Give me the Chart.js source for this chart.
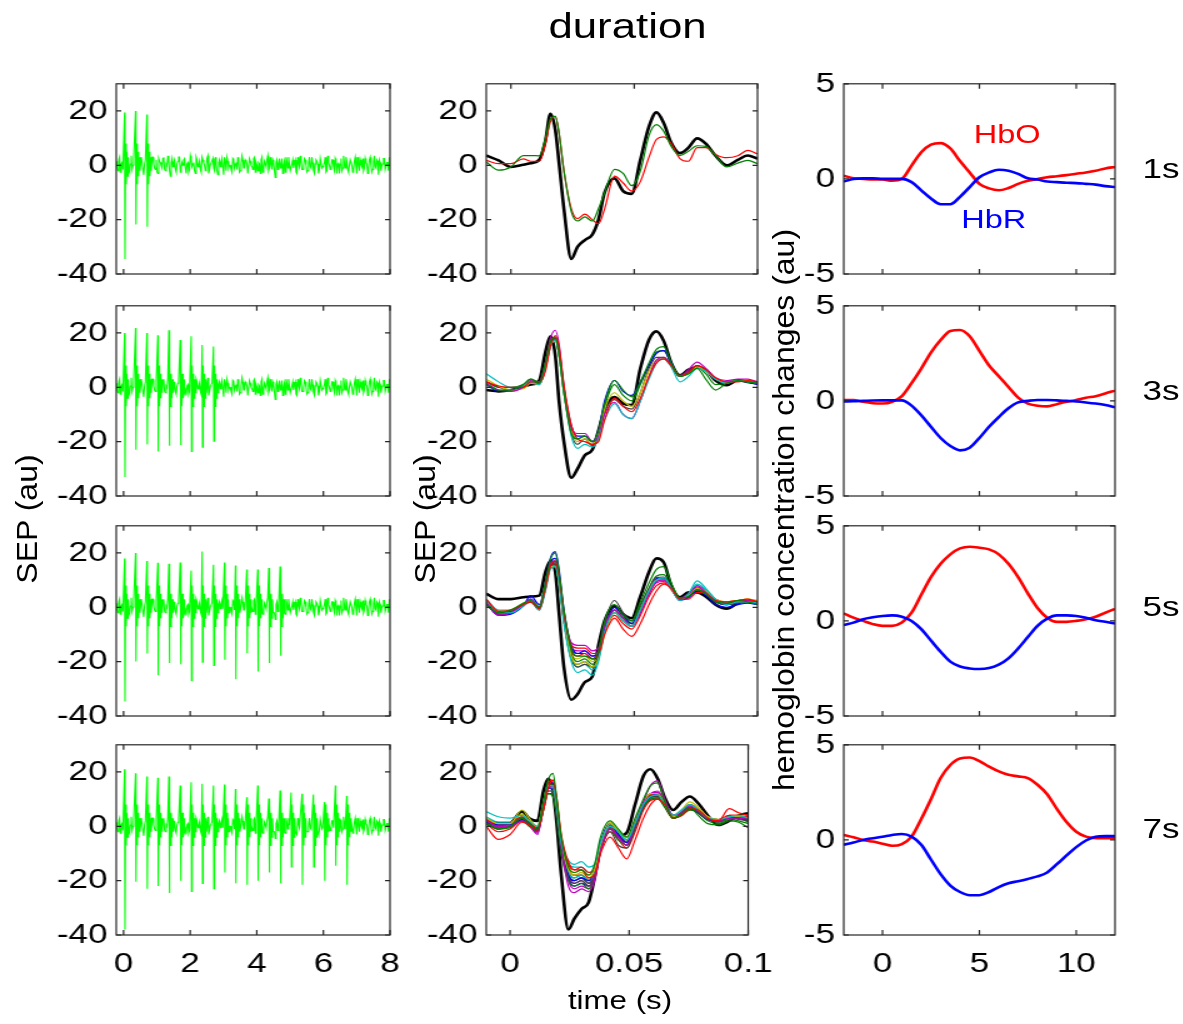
<!DOCTYPE html>
<html lang="en">
<head>
<meta charset="utf-8">
<title>duration</title>
<script src="https://cdn.jsdelivr.net/npm/chart.js@4.4.1/dist/chart.umd.min.js"></script>
<style>
    html, body { margin: 0; padding: 0; background: #fff; }
    body { width: 1183px; height: 1024px; overflow: hidden; position: relative; }
    /* 原图整体横向拉伸约 1.25 倍 */
    #figure {
        position: absolute; left: 0; top: 0;
        width: 947px; height: 1024px;
        transform: scaleX(1.25); transform-origin: 0 0;
        font-family: 'Liberation Sans', Arial, sans-serif; color: #000;
    }
    #figure canvas { position: absolute; }
    .txt { position: absolute; white-space: nowrap; line-height: 1; }
    .title { font-size: 35px; left: 502px; top: 8px; transform: translateX(-50%); }
    .dur { font-size: 28px; left: 914px; }
    .hb { font-size: 26px; }
    .xlabel { font-size: 25px; left: 496px; top: 988px; transform: translateX(-50%); }
    .ylabel { font-size: 32px; transform: translate(-50%, -50%) rotate(-90deg) scaleY(0.75); }
</style>
</head>
<body>
<div id="figure">
    <div class="txt title">duration</div>
    <div class="txt ylabel" style="left:21px; top:519px;">SEP (au)</div>
    <div class="txt ylabel" style="left:340px; top:519px;">SEP (au)</div>
    <div class="txt ylabel" style="left:627px; top:510px;">hemoglobin concentration changes (au)</div>
    <div class="txt xlabel">time (s)</div>
    <div class="txt hb" style="left:779px; top:121px; color:#ff0000;">HbO</div>
    <div class="txt hb" style="left:769px; top:206px; color:#0000ff;">HbR</div>
    <div class="txt dur" style="top:155px;">1s</div>
    <div class="txt dur" style="top:377px;">3s</div>
    <div class="txt dur" style="top:593px;">5s</div>
    <div class="txt dur" style="top:815px;">7s</div>
</div>

<script>
// 刺激脉冲时间 (s)
const SPIKE_T = [0.03, 0.36, 0.70, 1.03, 1.36, 1.70, 2.03, 2.36, 2.70, 3.03, 3.36,
    3.70, 4.03, 4.36, 4.70, 5.03, 5.36, 5.70, 6.03, 6.36, 6.70];

// 每个脉冲的正/负峰值
const SPIKE_HIGH_1S = [19.4, 20, 18.7];
const SPIKE_LOW_1S = [-34.5, -21.8, -22.6];
const SPIKE_HIGH_3S = [20, 21.8, 20, 19.2, 21, 17.4, 18.8, 15.6, 15];
const SPIKE_LOW_3S = [-33, -23, -21, -23.6, -21.5, -21.2, -23.6, -22, -19.8];
const SPIKE_HIGH_5S = [18, 20, 17, 16.4, 16, 16.5, 13.5, 20.5, 15.7, 16.5, 15.4, 13.9, 13.9, 14.5, 15];
const SPIKE_LOW_5S = [-34.7, -19.9, -17, -25, -20.5, -21, -27, -20.2, -21.4, -19.3, -26.5, -16.9, -23.6, -20.5, -17.8];
const SPIKE_HIGH_7S = [21, 19.5, 18.3, 17.9, 18.3, 15, 16.2, 15.7, 15, 15.4, 13.7, 10.7, 15, 10.2, 13.2,
    12.4, 12, 11.7, 8.9, 15, 11.2];
const SPIKE_LOW_7S = [-38, -20.4, -23, -22, -24.5, -20, -24, -21, -23, -17, -21, -21.5, -20, -17, -21,
    -15, -21.5, -15, -20, -14.5, -21.5];

// 脉冲后的振铃 (相对时间, 幅值)
const RING_DT = [0.03, 0.05, 0.07, 0.09, 0.11, 0.13];
const RING_Y = [8, -7, 5, -4, 3, -2];

// 基线噪声, 从 -0.22 s 起每 0.05 s 一个点; 第二组错开半步
const EEG_X0 = -0.22;
const EEG_STEP = 0.05;
const NOISE = [
    1.5, -2, 3, 0.5, -1.5, 2.5, -0.5, 1, -2.5, 3.5,
    0, -1, 2, -2, 1.5, 3, -1.5, 0.5, 2.5, -2.5,
    1, -0.5, 3, -1, 2, -3, 1.5, 0, 2.5, -1.5,
    0.5, 3.5, -2, 1, -0.5, 2, -2.5, 1.5, 3, -1,
    0, 2.5, -3, 1, -1.5, 2, 0.5, -2, 3, -0.5,
    1.5, -2.5, 2, 0, -1, 3.5, -1.5, 1, 2.5, -2,
    0.5, -3.5, 2, 1, -0.5, 3, -2, 1.5, 0, -1.5,
    2.5, -1, 1, 3, -2.5, 0.5, 2, -1, 1.5, -3,
    2.5, 0, -1.5, 3, 1, -2, 0.5, 2, -2.5, 1.5,
    -0.5, 3.5, -1, 0.5, 2, -2, 1, -1.5, 2.5, 0,
    -3, 1.5, 3, -1, 0.5, -2, 2, 1, -2.5, 3,
    -0.5, 1.5, -1.5, 2.5, 0, -2, 3, -1, 1, -3,
    2, 0.5, -1.5, 2.5, -0.5, 1, -2.5, 3.5, 0, -1,
    2, -2, 1.5, 0.5, -3, 2.5, -1, 1, 3, -1.5,
    0, 2, -2.5, 1.5, -0.5, 3, -2, 0.5, 2.5, -1,
    1, -3, 2, 0, -1.5, 3.5, -1, 1.5, 2, -2,
    0.5, 2.5, -1.5, 1, 3
];
const NOISE_B = [
    -1, 2, -2.5, 1, 3, -0.5, -3, 2, 0.5, -1.5,
    2.5, -2, 0, 3.5, -1, 1, -3.5, 2, -0.5, 1.5,
    -2, 3, 0.5, -1.5, -2.5, 2.5, 1, -1, 3, -2,
    0, 1.5, -4, 2.5, 1, -1.5, 0.5, 3, -2.5, 1,
    2, -1, 0.5, -2.5, 3.5, -0.5, 1, -3, 2, 0,
    -1.5, 3, 1, -2, 2.5, -3, 0.5, 1.5, -1, 3,
    -2, 1, -0.5, 2.5, -3.5, 1.5, 3, -1, 0, -2.5,
    2, 0.5, -1.5, 1, -2, 3.5, -1, 2, 0.5, -3,
    1.5, -0.5, 2.5, -2.5, 0, 1, -3, 3, -1, 0.5,
    2, -2, 3, -1.5, 1, -4.5, 2, 0.5, -1, 2.5,
    0, -2.5, 1.5, 3, -2, 0.5, -1, 2, -3, 1,
    3.5, -1.5, 0, 2, -2.5, 1, -0.5, 3, -2, 0.5,
    1.5, -3, 2.5, -1, 0, 3, -2, 1, -1.5, 2,
    -0.5, 2.5, -3, 1, 0.5, -2, 3.5, -1, 1.5, -2.5,
    2, 0, -1.5, 3, -3, 1, 2, -0.5, -2, 2.5,
    0.5, -1, 3, -2.5, 1.5, -0.5, 2, -3.5, 1, 0,
    2.5, -1.5, 1, -2, 2
];

// SEP 平均波形的时间轴 (s)
const SEP_T = [-0.01, -0.005, 0, 0.005, 0.008, 0.0115, 0.014, 0.016, 0.018, 0.0195, 0.0215, 0.0245,
    0.027, 0.03, 0.033, 0.0355, 0.038, 0.042, 0.0455, 0.049, 0.0525, 0.056, 0.059, 0.062, 0.065,
    0.0685, 0.072, 0.0755, 0.079, 0.083, 0.0875, 0.092, 0.096, 0.1];

// 第一个脉冲 (黑色粗线)
const SEP_1S_FIRST = [3.6, 1.8, -0.6, 0.2, 0.8, 2, 9, 19, 13, 1, -16, -34.5, -30, -27.5, -25.5, -20, -10,
    -4.8, -9.5, -10.5, 2, 14.3, 19.5, 15.5, 8.3, 4.5, 6.5, 9.9, 8, 3.5, 0, 2, 3.6, 2.4];
const SEP_3S_FIRST = [-1, -1.5, -1, 0.2, 1, 2.5, 13, 18.8, 11.6, -5, -20, -33.3, -30, -25, -23, -16, -8,
    -3.6, -6, -6.5, 7, 17.5, 20.6, 17, 9, 4.4, 6.5, 7.4, 6.5, 2.5, 0.8, 2.6, 2, 1.4];
const SEP_5S_FIRST = [5, 3, 3, 3.7, 4, 4.3, 13, 17, 13, -2, -22, -34, -32, -27.5, -25.5, -14, -5,
    0.5, -2.5, -4, 4, 13, 18, 16.5, 8, 3.7, 5.5, 5.5, 4, 1, -0.5, 1.5, 2.5, 2];
const SEP_7S_FIRST = [2.4, 1.2, 1.2, 5.5, 3, 2, 13, 17.5, 13, 2, -18, -38, -34, -30.4, -28, -19, -8,
    0, -3.6, -2.4, 8, 18.5, 21, 17.5, 10.5, 6, 9, 11, 8.5, 4, 0.5, 2, 4, 4.8];

// 其余脉冲 (彩色细线)
const SEP_1S_TRIALS = [
    [1.2, -1.8, -0.6, 3.6, 3.6, 3.5, 10, 17, 18, 12, -2, -17, -20.5, -19, -20.5, -16, -10, -1.5, -3, -7.5, -2, 11, 15, 12.5, 7, 3.6, 5.2, 7.2, 7, 3.6, -0.6, 0.8, 1.8, 0.6],
    [1.8, 0.6, 0.6, 2.4, 1.5, 1.5, 8, 16, 18, 12, -2, -16, -19.6, -18, -20, -21.5, -16, -4, -6.5, -9.5, -6, 3, 9.5, 10.5, 8, 2.5, 1.5, 6.5, 6.5, 4, 2.8, 3.5, 5.5, 4.2]
];
const SEP_3S_TRIALS = [
    [1, -1, -1, 1, 3, 1.5, 9, 17, 18.5, 12, -2, -17, -19, -18, -20, -16, -6, 2.5, -1, -3.5, 2, 9, 14, 15, 9, 4, 5, 7, 3, -1, 1.5, 2.5, 2, 1.5],
    [2, 0.5, 0, 0, 2, 2, 6, 15, 19, 15, 1, -14, -19, -20, -21, -20, -12, -4, -7, -9, -4, 4, 9, 10.5, 8, 4, 5.5, 8, 6.5, 3.5, 2, 2, 2.5, 2],
    [5, 2, 0, 0.5, 2, 1, 7, 15, 17.5, 12, -2, -18, -22.5, -21, -22, -19, -12, -6, -10, -11.5, -5, 3, 9, 10.5, 7.5, 2, 4, 7, 6, 3, 1.5, 2.5, 2, 1.5],
    [1.5, -1, -1.5, 0, 2.5, 2, 9, 18, 21, 16, 0, -15, -17, -17, -20, -18, -10, -5.5, -10, -11.5, -5, 4, 10, 11, 8, 4, 6.5, 9.3, 7, 3.5, 2.5, 3, 3, 2],
    [3, 0.5, -1, -0.5, 1.5, 1, 7, 15.5, 17, 12, -2, -16, -20, -19, -21, -17, -8, -2, -5, -7, -2, 6, 10, 10.5, 8, 4, 5, 7.5, 6, 3, 2, 2.5, 2.5, 2],
    [2, 0, -1, 0, 2, 1.5, 8, 16, 18, 13, -1, -17, -21, -19, -21.5, -18, -9, -4.5, -7, -8, -2, 7, 11, 11, 8, 4.5, 6, 8, 6.5, 3, 2, 2.5, 2, 1.5],
    [1, -1.5, -1, 0, 1.5, 1, 7, 15, 18, 14, 0, -14, -18, -18, -20, -16, -5, 2.5, -1.5, -3, 2, 8, 12.5, 13.5, 9, 4, 5.5, 8, 6, 3, 2, 2.5, 2, 1],
    [2, 0, 0, 1, 3, 2, 9, 16.5, 17.5, 12, -2, -16, -19, -18, -20, -17, -7, 1, -3, -5, 1, 8, 13, 13.5, 8.5, 4, 5, 7.5, 5, 1, 1.5, 2.5, 2.5, 2]
];
const SEP_5S_TRIALS = [
    [1, -2, -1, 1.5, 2.5, 0, 9, 17.5, 20, 13, -1, -15, -18, -18, -19, -16, -5, 1, -3, -5, 2, 9, 14, 15, 9, 3.5, 4, 6.5, 5, 2, 1.5, 2.5, 2, 1],
    [3, -1.5, -1, 1, 2, -0.5, 7, 15, 17, 12, -2, -14, -15, -15, -17, -17, -10, -4, -8, -10.7, -6, 1, 6, 8.5, 7, 3, 3, 5.5, 5, 2.5, 2, 2.5, 3, 2],
    [2.5, -2, -2, 0.5, 2.5, -1, 6, 14, 15, 9, -6, -20, -24, -23, -25, -20, -9, -2, -5, -7, -1, 6, 10, 11, 7, 2.5, 5, 9.7, 7, 3, 1, 2, 2, 1.5],
    [1.5, -3, -2, 1, 3, 0, 8, 16, 17, 11, -3, -13, -14, -14, -16, -15, -7, -1, -4, -7, -2, 5, 9.5, 10, 7, 3, 5, 7.5, 5.5, 2.5, 1.5, 2, 2.5, 1.5],
    [2.5, -1.5, -1, 1.5, 2.5, 0.5, 8, 15, 15, 9, -5, -18, -21, -20, -22, -19, -10, -2, -5, -7, -1, 6, 10, 10, 6.5, 3, 4.5, 7, 6, 3, 2, 2.5, 3, 2.5],
    [2, -2, -1.5, 1, 2, -1, 7, 15, 16, 10, -5, -19, -22, -21, -22, -18, -6, 2.5, -2, -5, 1, 7, 11, 11, 7, 3, 4, 6.5, 5, 2, 1, 1.5, 2, 1.5],
    [1.5, -3, -2.5, 0.5, 4.3, 1, 9, 18, 20.5, 14, -1, -14, -17, -16, -18, -17, -8, 0, -3, -6, -1, 6, 10.5, 11, 7, 2.5, 3.5, 6, 4.5, 1, 0, 1, 1.5, 1],
    [2, -2, -1.5, 1, 2.5, 0, 8, 16, 17, 11, -3, -17, -20, -19, -21, -18, -9, -1, -4, -6, 0, 7, 11.5, 12, 7.5, 3, 4.5, 7, 5.5, 2.5, 1.5, 2, 2, 1.5],
    [1, -2.5, -2, 0.5, 2, -0.5, 7, 15, 16, 11, -3, -16, -18, -17, -19, -17, -9, -3, -6, -8, -3, 4, 8, 9, 7, 3, 4, 6.5, 5.5, 3, 2, 2.5, 2.5, 2],
    [3, -1, -1, 1.5, 3, 0.5, 8, 15, 15.5, 10, -4, -18, -22, -21, -23, -19, -9, -2, -5, -7, -1, 6, 10, 10.5, 7, 3, 5, 8.5, 6.5, 3, 1.5, 2, 2, 1.5],
    [2, -2, -1.5, 1, 2.5, 0, 8, 16, 17, 11, -3, -15, -16, -16, -18, -16, -8, -2, -5, -7, -2, 5, 9, 9.5, 6.5, 3, 5, 8, 6, 2.5, 1.5, 2.5, 2.5, 2],
    [2, -1.5, -1, 1, 2, 0, 7, 15, 16, 10, -4, -17, -19, -18, -20, -18, -9, -1, -4, -6, 0, 6.5, 10.5, 11, 7, 3, 4.5, 7, 5.5, 2.5, 2, 2.5, 3, 2.5],
    [2.5, -2, -1, 1, 2.5, -0.5, 7, 15.5, 16, 10, -5, -19, -21, -20, -22, -19, -8, 0, -3, -6, 0, 6, 10, 10.5, 7, 3.5, 5, 7, 5.5, 2.5, 1, 2, 2, 1.5],
    [1, -2.5, -2, 0.5, 3, 0, 8, 16.5, 18, 12, -2, -15, -17, -17, -19, -17, -8, -1, -4, -6, -1, 5.5, 10, 10.5, 7, 3, 4, 6.5, 5, 2, 1, 1.5, 2, 1]
];
const SEP_7S_TRIALS = [
    [1, -1, 0, 3, 1, -1, 9, 17, 19.5, 11, -4, -15, -17, -16, -18, -14, -4, 2, -1, -4, 3, 10, 15, 16, 9, 3, 4.5, 7, 4, 1, 0.5, 2, 1.5, -0.5],
    [0, -4.8, -3, 1.5, 0.5, -1.5, 6, 14, 17, 11, -3, -13, -16, -16, -19, -18, -10, -4, -8, -12, -5, 3, 8, 10, 8, 3, 4, 6.5, 6, 3, 2, 6.5, 5, 4],
    [5.4, 3.5, 3, 4, 2, 0, 8, 15, 15, 8, -6, -12.5, -14, -13, -15, -14, -6, 0, -2, -5, 1, 8, 11, 11.5, 8, 4, 6, 8, 6, 3, 2.5, 3.5, 4, 3],
    [2, 0, 0, 2, 0.5, -3, 7, 14, 15, 9, -7, -22, -24.4, -23, -24, -20, -9, -1, -4, -7, 1, 9, 15, 16.7, 10, 4, 5, 8, 6, 3, 2, 3, 3, 2.5],
    [3, 1, 1, 6, 3, 0, 9, 15, 15, 8, -6, -16, -18, -17, -19, -16, -7, 1, -2, -5, 2, 9, 12, 12, 8, 3.5, 6, 9, 7, 3.5, 2.5, 3.5, 4, 4],
    [2, 0, 0, 3, 1, -1, 7, 13, 13, 6, -8, -19, -21, -20, -22, -19, -9, -2, -7, -8, -1, 7, 11, 11, 8, 3, 5, 7, 5, 2.5, 2, 3, 3, 3],
    [1.5, 0.5, 0.5, 2.5, 1, -1.5, 7, 14, 14, 7, -7, -18, -20, -19, -20, -16, -6, 1, -3, -6, 1, 8, 11, 12, 8, 3.5, 5, 6.5, 5, 2.5, 2, 3.5, 3, 2.5],
    [2, -1, -0.5, 2, 0, -2, 6, 12, 11, 4, -10, -20, -22, -21, -23, -19, -9, -1, -5, -7, 0, 7, 10, 10.5, 7, 3, 4, 6, 5, 2, 1, 2.5, 2, 1],
    [2.5, 0.5, 1, 3.5, 1.5, -0.5, 8, 16, 17, 10, -4, -14, -16, -15, -17, -16, -7, 0, -3, -6, 1, 8, 11.5, 12, 8.5, 4, 5, 7, 6, 3, 2.5, 4, 4, 3.5],
    [3, 1, 1, 3, 1, -1, 8, 15, 15, 8, -6, -17, -19, -18, -20, -17, -8, 0, -3, -6, 1, 8, 11, 11, 8, 3.5, 5.5, 8, 6, 3, 2, 3, 3, 3],
    [1.5, -0.5, 0, 2.5, 0.5, -2, 7, 14, 15, 8, -6, -18, -21, -20, -22, -18, -8, -1, -4, -7, 0, 8, 12, 12.5, 8.5, 3.5, 5, 7.5, 5.5, 2.5, 2, 3, 3, 2.5],
    [2, 0.5, 0.5, 3.5, 1.5, -0.5, 8, 15, 14, 7, -7, -15, -17, -16, -18, -15, -6, 1.5, -1.5, -4, 2, 9, 11.5, 12, 8, 4, 6, 8, 6.5, 3.5, 2.5, 3.5, 3.5, 3.5],
    [1, -1, 0, 2, 0.5, -1.5, 6, 12, 12, 5, -9, -18, -20, -19, -21, -17, -7, -0.5, -4, -6, 0, 7, 10, 10.5, 7, 3, 4.5, 6.5, 5, 2.5, 1.5, 3, 2.5, 2],
    [2.5, 0.5, 1, 3, 1, -1, 8, 16, 16, 8, -6, -19, -22, -21, -22, -18, -8, 0, -3, -6, 1, 8, 11, 11.5, 8, 3.5, 5, 7, 5.5, 3, 2, 3.5, 3, 2.5],
    [2, 0, 0, 3, 1, -1, 8, 15, 15.5, 8, -6, -17, -19, -18, -20, -17, -8, 0.5, -2.5, -5, 1.5, 8.5, 12, 12, 8, 3.5, 5, 7, 5.5, 3, 2, 3, 3, 1.5],
    [1, -2, -1, 2, 0.5, -1.5, 7, 14, 15, 9, -5, -16, -18, -18, -20, -18, -9, -2, -5, -8, -2, 6, 9.5, 10, 7.5, 3, 4, 6, 5.5, 3, 2, 4, 4, 3.5],
    [3.5, 1.5, 1.5, 3.5, 1.5, -0.5, 7, 13, 13, 6, -8, -14, -15, -15, -17, -15, -6, 1, -2, -5, 1.5, 8, 11, 11, 7.5, 3.5, 5.5, 7.5, 6, 3, 2.5, 3, 3.5, 3],
    [2, 0, 0, 2.5, 0.5, -2.5, 7, 15, 16, 9, -6, -20, -23, -22, -23, -19, -9, -1, -4, -7, 0, 8, 12, 13, 9, 4, 5.5, 8, 6, 3, 2, 3, 3, 2],
    [2.5, 1, 1, 4.5, 2, 0, 8, 14, 14, 7, -7, -16, -18, -17, -19, -16, -7, 0.5, -2.5, -5, 1, 8, 11, 11, 7.5, 3.5, 5.5, 8, 6.5, 3.5, 2.5, 3.5, 3.5, 3.5],
    [1.5, -0.5, 0, 2.5, 1, -1, 7, 14, 14, 7, -7, -18, -20, -19, -21, -18, -8, -0.5, -4, -6, 0, 7.5, 10.5, 11, 7.5, 3, 4.5, 7, 5, 2.5, 1.5, 3, 3, 2.5]
];

// 血红蛋白浓度变化的时间轴 (s)
const HB_T = [-2, -1.5, -1, -0.5, 0, 0.5, 1, 1.5, 2, 2.5, 3, 3.5, 4, 4.5, 5, 5.5, 6, 6.5, 7, 7.5,
    8, 8.5, 9, 9.5, 10, 10.5, 11, 11.5, 12];
const HBO_1S = [0.17, 0.03, 0, -0.03, -0.03, -0.1, 0, 0.7, 1.4, 1.8, 1.88, 1.6, 0.94, 0.34, -0.26,
    -0.5, -0.6, -0.48, -0.26, -0.1, 0, 0.09, 0.14, 0.2, 0.27, 0.34, 0.43, 0.55, 0.63];
const HBR_1S = [-0.14, 0, 0.03, 0.03, 0, 0, 0, -0.17, -0.6, -1.03, -1.33, -1.33, -0.94, -0.43, 0.09,
    0.34, 0.48, 0.43, 0.26, 0.03, -0.03, -0.14, -0.17, -0.2, -0.22, -0.26, -0.3, -0.38, -0.43];
const HBO_3S = [0.05, 0.05, -0.05, -0.12, -0.14, -0.05, 0.25, 0.93, 1.7, 2.54, 3.2, 3.68, 3.73, 3.4, 2.63,
    1.86, 1.3, 0.73, 0.17, -0.14, -0.25, -0.29, -0.17, -0.05, 0.05, 0.17, 0.25, 0.39, 0.54];
const HBR_3S = [-0.03, -0.02, 0, 0.02, 0.03, 0.03, 0.03, -0.25, -0.76, -1.36, -1.95, -2.37, -2.6, -2.46, -1.95,
    -1.36, -0.85, -0.39, -0.08, 0, 0.05, 0.05, 0.03, 0, -0.03, -0.08, -0.14, -0.22, -0.34];
const HBO_5S = [0.4, 0.17, 0, -0.17, -0.26, -0.26, -0.09, 0.43, 1.37, 2.3, 3, 3.5, 3.81, 3.9, 3.85,
    3.76, 3.5, 3, 2.3, 1.45, 0.68, 0.17, -0.05, -0.05, 0, 0.09, 0.22, 0.43, 0.63];
const HBR_5S = [-0.22, -0.09, 0.09, 0.19, 0.26, 0.29, 0.22, 0, -0.43, -1.03, -1.62, -2.14, -2.4, -2.5, -2.53,
    -2.48, -2.3, -1.97, -1.45, -0.85, -0.26, 0.12, 0.29, 0.29, 0.26, 0.17, 0.03, -0.05, -0.14];
const HBO_7S = [0.26, 0.14, 0, -0.09, -0.2, -0.31, -0.22, 0.17, 1.1, 2.14, 3.25, 3.94, 4.28, 4.33, 4.14,
    3.85, 3.6, 3.42, 3.34, 3.25, 2.9, 2.4, 1.63, 0.94, 0.43, 0.17, 0.09, 0.09, 0.09];
const HBR_7S = [-0.26, -0.14, 0, 0.09, 0.17, 0.26, 0.31, 0.17, -0.26, -1.03, -1.8, -2.4, -2.74, -2.91, -2.91,
    -2.74, -2.48, -2.28, -2.17, -2.05, -1.92, -1.71, -1.28, -0.82, -0.38, -0.03, 0.17, 0.2, 0.2];

// 刻度
const EEG_X_TICKS = [0, 2, 4, 6, 8];
const SEP_X_TICKS = [0, 0.05, 0.1];
const HB_X_TICKS = [0, 5, 10];
const SEP_Y_TICKS = [-40, -20, 0, 20];
const HB_Y_TICKS = [-5, 0, 5];

// MATLAB 默认颜色顺序 (从绿色开始)
const TRIAL_COLORS = ['#008000', '#ff0000', '#00bfbf', '#bf00bf', '#bfbf00', '#404040', '#0000ff'];

const ROWS = [
    { high: SPIKE_HIGH_1S, low: SPIKE_LOW_1S, first: SEP_1S_FIRST, trials: SEP_1S_TRIALS, hbo: HBO_1S, hbr: HBR_1S },
    { high: SPIKE_HIGH_3S, low: SPIKE_LOW_3S, first: SEP_3S_FIRST, trials: SEP_3S_TRIALS, hbo: HBO_3S, hbr: HBR_3S },
    { high: SPIKE_HIGH_5S, low: SPIKE_LOW_5S, first: SEP_5S_FIRST, trials: SEP_5S_TRIALS, hbo: HBO_5S, hbr: HBR_5S },
    { high: SPIKE_HIGH_7S, low: SPIKE_LOW_7S, first: SEP_7S_FIRST, trials: SEP_7S_TRIALS, hbo: HBO_7S, hbr: HBR_7S }
];

// 版面 (未拉伸坐标)
const FONT = "'Liberation Sans', Arial, sans-serif";
const ROW_TOP = [78, 300, 520, 739];
const PLOT_H = 196;
const COL_LEFT = [93, 389, 675];
const COL_W = [219, 217, 217];
const Y_AXIS_W = 70;
const X_AXIS_H = 45;
const PAD_TOP = 18;
const PAD_RIGHT = 24;

// 画 MATLAB 风格的边框和向内的刻度
const boxPlugin = {
    id: 'matlabBox',
    afterDraw(chart) {
        const { ctx, chartArea: a, scales } = chart;
        ctx.save();
        ctx.strokeStyle = '#262626';
        ctx.lineWidth = 1.2;
        ctx.strokeRect(a.left, a.top, a.right - a.left, a.bottom - a.top);
        ctx.beginPath();
        scales.x.ticks.forEach(t => {
            const px = scales.x.getPixelForValue(t.value);
            ctx.moveTo(px, a.bottom); ctx.lineTo(px, a.bottom - 5);
            ctx.moveTo(px, a.top); ctx.lineTo(px, a.top + 5);
        });
        scales.y.ticks.forEach(t => {
            const py = scales.y.getPixelForValue(t.value);
            ctx.moveTo(a.left, py); ctx.lineTo(a.left + 4, py);
            ctx.moveTo(a.right, py); ctx.lineTo(a.right - 4, py);
        });
        ctx.stroke();
        ctx.restore();
    }
};

function makeAxis(min, max, ticks, showLabels, isX) {
    return {
        type: 'linear',
        min: min,
        max: max,
        afterBuildTicks: scale => { scale.ticks = ticks.map(v => ({ value: v })); },
        afterFit: scale => {
            if (isX) scale.height = X_AXIS_H;
            else scale.width = Y_AXIS_W;
        },
        grid: { display: false, drawTicks: false },
        border: { display: false },
        ticks: {
            display: showLabels,
            padding: isX ? 12 : 7,
            color: '#000',
            autoSkip: false,
            maxRotation: 0,
            font: { family: FONT, size: 28 },
            callback: v => String(v)
        }
    };
}

function toPoints(xs, ys) {
    return xs.map((x, i) => ({ x: x, y: ys[i] }));
}

// 原始 EEG: 噪声基线 + 各个脉冲
function buildEeg(highs, lows) {
    const times = SPIKE_T.slice(0, highs.length);
    const inPulse = x => times.some(t => x > t - 0.03 && x < t + 0.15);
    const pts = [];
    NOISE.forEach((v, i) => {
        const x = EEG_X0 + i * EEG_STEP;
        if (!inPulse(x)) pts.push({ x: x, y: v });
    });
    NOISE_B.forEach((v, i) => {
        const x = EEG_X0 + EEG_STEP / 2 + i * EEG_STEP;
        if (!inPulse(x) && x <= 8) pts.push({ x: x, y: v });
    });
    times.forEach((t, k) => {
        pts.push({ x: t, y: highs[k] });
        pts.push({ x: t + 0.012, y: lows[k] });
        RING_DT.forEach((dt, j) => pts.push({ x: t + dt, y: RING_Y[j] }));
    });
    pts.sort((a, b) => a.x - b.x);
    return pts;
}

function addChart(col, row, datasets, xMin, xMax, xTicks, yMin, yMax, yTicks) {
    const canvas = document.createElement('canvas');
    const w = Y_AXIS_W + COL_W[col] + PAD_RIGHT;
    const h = PAD_TOP + PLOT_H + X_AXIS_H;
    canvas.width = w;
    canvas.height = h;
    canvas.style.left = (COL_LEFT[col] - Y_AXIS_W) + 'px';
    canvas.style.top = (ROW_TOP[row] - PAD_TOP) + 'px';
    canvas.style.width = w + 'px';
    canvas.style.height = h + 'px';
    document.getElementById('figure').appendChild(canvas);

    new Chart(canvas, {
        type: 'line',
        data: { datasets: datasets },
        options: {
            responsive: false,
            animation: false,
            devicePixelRatio: 1,
            events: [],
            layout: { padding: { left: 0, top: PAD_TOP, right: PAD_RIGHT, bottom: 0 } },
            plugins: { legend: { display: false }, tooltip: { enabled: false } },
            elements: { point: { radius: 0 } },
            scales: {
                x: makeAxis(xMin, xMax, xTicks, row === 3, true),
                y: makeAxis(yMin, yMax, yTicks, true, false)
            }
        },
        plugins: [boxPlugin]
    });
}

function initializeFigure() {
    ROWS.forEach((r, row) => {
        // 第一列: 原始 SEP
        addChart(0, row, [{
            data: buildEeg(r.high, r.low),
            borderColor: '#00ff00',
            borderWidth: 1.1,
            tension: 0
        }], -0.22, 8, EEG_X_TICKS, -40, 30, SEP_Y_TICKS);

        // 第二列: 每个脉冲的平均 SEP, 黑色为第一个
        const sepSets = r.trials.map((ys, i) => ({
            data: toPoints(SEP_T, ys),
            borderColor: TRIAL_COLORS[i % TRIAL_COLORS.length],
            borderWidth: 1.2,
            cubicInterpolationMode: 'monotone'
        }));
        sepSets.push({
            data: toPoints(SEP_T, r.first),
            borderColor: '#000000',
            borderWidth: 2.6,
            cubicInterpolationMode: 'monotone'
        });
        addChart(1, row, sepSets, -0.01, 0.1, SEP_X_TICKS, -40, 30, SEP_Y_TICKS);

        // 第三列: HbO / HbR
        addChart(2, row, [
            { data: toPoints(HB_T, r.hbr), borderColor: '#0000ff', borderWidth: 2.6, cubicInterpolationMode: 'monotone' },
            { data: toPoints(HB_T, r.hbo), borderColor: '#ff0000', borderWidth: 2.6, cubicInterpolationMode: 'monotone' }
        ], -2, 12, HB_X_TICKS, -5, 5, HB_Y_TICKS);
    });
}

document.addEventListener('DOMContentLoaded', initializeFigure);
</script>
</body>
</html>
